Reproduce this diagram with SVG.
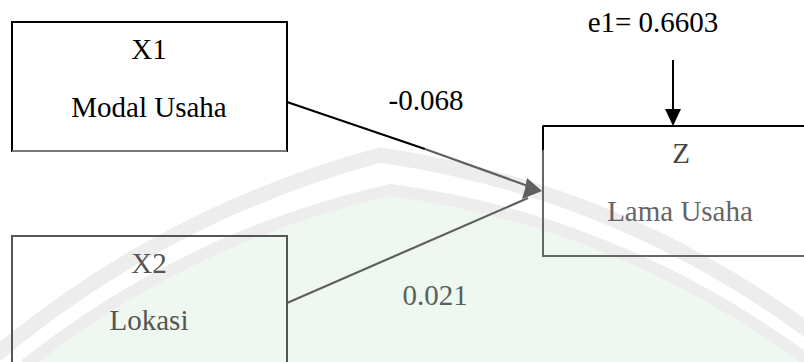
<svg xmlns="http://www.w3.org/2000/svg" width="804" height="362" viewBox="0 0 804 362">
<defs>
<style>
.t{font-family:'Liberation Serif','Times New Roman','DejaVu Serif',serif;font-size:29px;text-anchor:middle}
.box{fill:none;stroke-width:2}
.conn{fill:none;stroke:#5f5f5f;stroke-width:2.2}
</style>
</defs>
<rect width="804" height="362" fill="#fff"/>
<g id="watermark">
<path d="M25,365 Q190,235 390,190 Q620,220 814,365 Z" fill="#eff7f1"/>
<path d="M-10,360 Q160,215 380,155 Q620,190 814,335" fill="none" stroke="#ededed" stroke-width="15"/>
<path d="M25,365 Q190,235 390,190 Q620,220 814,365" fill="none" stroke="#ededed" stroke-width="12"/>
</g>
<g id="connectors">
<line x1="287" y1="102" x2="425" y2="149" stroke="#000" stroke-width="2.2"/>
<line x1="425" y1="149" x2="528" y2="186" class="conn"/>
<line x1="287" y1="303" x2="528" y2="198" class="conn"/>
<line x1="673" y1="60" x2="673" y2="112" stroke="#000" stroke-width="2"/>
<path d="M665,109 L681,109 L673,126 z" fill="#000"/>
<path d="M527,178 L542,191 L522,199 L525,189 z" fill="#5f5f5f"/>
</g>
<g id="X1">
<rect class="box" x="12" y="22" width="275" height="129" stroke="#000"/>
<line x1="12" y1="151" x2="287" y2="151" stroke="#777" stroke-width="2"/>
<text class="t" x="149" y="59" fill="#000">X1</text>
<text class="t" x="149" y="117" fill="#000">Modal Usaha</text>
</g>
<g id="X2">
<rect class="box" x="12" y="236" width="275" height="140" stroke="#555"/>
<text class="t" x="149" y="273" fill="#555">X2</text>
<text class="t" x="149" y="330" fill="#555">Lokasi</text>
</g>
<g id="Z">
<rect class="box" x="543" y="126" width="280" height="130" stroke="#666"/>
<line x1="543" y1="126" x2="823" y2="126" stroke="#000" stroke-width="2"/>
<line x1="543" y1="126" x2="543" y2="150" stroke="#000" stroke-width="2"/>
<text class="t" x="681" y="163" fill="#444">Z</text>
<text class="t" x="680" y="221" fill="#666">Lama Usaha</text>
</g>
<g id="labels">
<text class="t" x="653" y="32" fill="#000">e1= 0.6603</text>
<text class="t" x="426" y="110" fill="#000">-0.068</text>
<text class="t" x="435" y="305" fill="#566458">0.021</text>
</g>
</svg>
